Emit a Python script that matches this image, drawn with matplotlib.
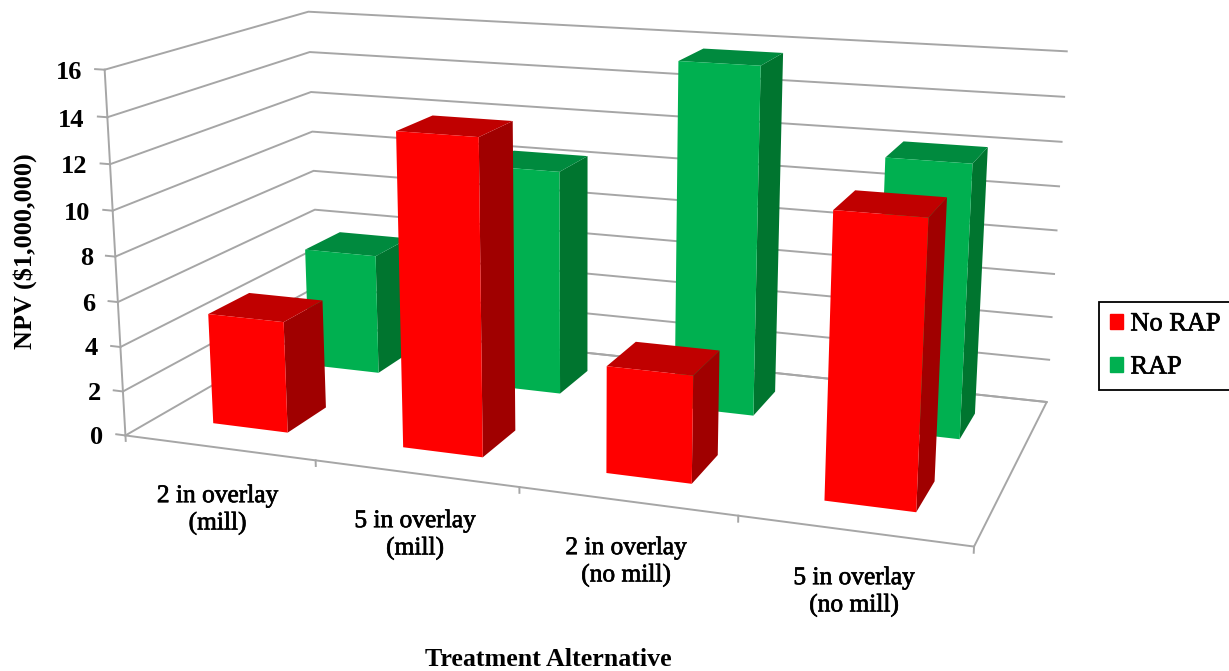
import numpy as np
import matplotlib
matplotlib.use("Agg")
import matplotlib.pyplot as plt
from matplotlib.patches import Patch
import matplotlib.patheffects as pe

WIDTH, HEIGHT = 1229, 671

categories = ["2 in overlay\n(mill)", "5 in overlay\n(mill)", "2 in overlay\n(no mill)", "5 in overlay\n(no mill)"]
no_rap = [5.0, 13.7, 4.6, 11.85]
rap = [5.7, 10.4, 15.7, 12.1]
y_ticks = [0, 2, 4, 6, 8, 10, 12, 14, 16]

RED = {"front": "#ff0000", "top": "#c00000", "side": "#a00000"}
GREEN = {"front": "#00b050", "top": "#008a3e", "side": "#00752f"}
GRID = "#a6a6a6"
SERIF = "Liberation Serif"

# camera calibration: (category, depth, value) -> canvas pixel
world_pts = np.array([
    (0, 0, 0), (4, 0, 0), (4, 1, 0), (0, 1, 0), (0, 0, 16), (0, 1, 16), (4, 1, 16),
    (1, 0, 0), (2, 0, 0), (3, 0, 0), (0, 0, 10), (0, 1, 8),
], dtype=float)
pixel_pts = np.array([
    (126, 434.5), (974, 545), (1047, 401), (319, 324), (105, 69), (308, 12), (1067, 52),
    (315, 462), (519, 488), (738, 517), (113, 210), (313, 171),
], dtype=float)


def fit_camera(world, pixels):
    rows = []
    for (x, y, z), (u, v) in zip(world, pixels):
        v = HEIGHT - v
        rows.append([x, y, z, 1, 0, 0, 0, 0, -u*x, -u*y, -u*z, -u])
        rows.append([0, 0, 0, 0, x, y, z, 1, -v*x, -v*y, -v*z, -v])
    p = np.linalg.svd(np.array(rows))[2][-1].reshape(3, 4)
    # w = 1 in the middle of the plot box
    return p / (p[2] @ np.array([2, 0.5, 8, 1]))


CAMERA = fit_camera(world_pts, pixel_pts)


def project(x, y, z):
    # figure fraction of a point in the plot box
    u, v, w = CAMERA @ np.array([x, y, z, 1])
    return u/w/WIDTH, v/w/HEIGHT


def add_bar(ax, x, row, value, colors, order, width=0.4, depth=0.2):
    # faces in bar3d order: bottom, top, front, back, left, right
    faces = ["none", colors["top"], colors["front"], "none", "none", colors["side"]]
    ax.bar3d(x + 0.5 - width/2, row*0.5 + 0.25 - depth/2, 0, width, depth, value,
             color=faces, shade=False, linewidth=0, zorder=order)


def main():
    fig = plt.figure(figsize=(WIDTH/100, HEIGHT/100), dpi=100)
    ax = fig.add_axes([0, 0, 1, 1], projection="3d", computed_zorder=False)
    ax.set_axis_off()
    ax.apply_aspect = lambda position=None: None

    def get_proj():
        to_axes = ax.transData.inverted().get_matrix()
        m = np.zeros((4, 4))
        m[0] = to_axes[0, 0]*CAMERA[0] + to_axes[0, 1]*CAMERA[1] + to_axes[0, 2]*CAMERA[2]
        m[1] = to_axes[1, 0]*CAMERA[0] + to_axes[1, 1]*CAMERA[1] + to_axes[1, 2]*CAMERA[2]
        m[2] = [0, 0.2, 0, -0.5]
        m[3] = CAMERA[2]
        return m
    ax.get_proj = get_proj

    n = len(categories)
    # gridlines on the side and back walls
    for v in y_ticks:
        ax.plot([0, 0, n], [0, 1, 1], [v, v, v], color=GRID, lw=1.4, zorder=1)
        ax.plot([-0.05, 0], [0, 0], [v, v], color=GRID, lw=1.4, zorder=1)
        fx, fy = project(-0.12, 0, v)
        fig.text(fx, fy - 2/HEIGHT, str(v), ha="right", va="center_baseline", fontsize=19,
                 family=SERIF, weight="bold")
    ax.plot([0, 0], [0, 0], [-0.25, 16], color=GRID, lw=1.4, zorder=1)
    # floor outline
    ax.plot([0, n, n, 0], [0, 0, 1, 1], [0, 0, 0, 0], color=GRID, lw=1.4, zorder=1)
    for i in range(1, n + 1):
        ax.plot([i, i], [0, 0], [0, -0.25], color=GRID, lw=1.4, zorder=1)

    for i, v in enumerate(rap):
        add_bar(ax, i, 1, v, GREEN, 2 + i*0.1)
    for i, v in enumerate(no_rap):
        add_bar(ax, i, 0, v, RED, 4 + i*0.1)

    heavier = [pe.withStroke(linewidth=0.5, foreground="black")]
    label_pos = [(217.5, 510), (415, 535), (626, 562), (854, 592)]
    for name, (px, py) in zip(categories, label_pos):
        fig.text(px/WIDTH, 1 - py/HEIGHT, name, ha="center", va="center", fontsize=18.3,
                 family=SERIF, linespacing=1.26, path_effects=heavier)

    fig.text(25/WIDTH, 1 - 251/HEIGHT, "NPV ($1,000,000)", rotation=90, ha="center", va="center",
             fontsize=18.9, family=SERIF, weight="bold")
    fig.text(548/WIDTH, 1 - 659/HEIGHT, "Treatment Alternative", ha="center", va="center",
             fontsize=18.7, family=SERIF, weight="bold")

    handles = [Patch(color=RED["front"], label="No RAP"), Patch(color=GREEN["front"], label="RAP")]
    leg = ax.legend(handles=handles, loc="center left", bbox_to_anchor=(1099/WIDTH, 1 - 346/HEIGHT),
                    bbox_transform=fig.transFigure, borderaxespad=0, fancybox=False, framealpha=1,
                    edgecolor="black", handlelength=0.5, handleheight=0.5, handletextpad=0.27,
                    labelspacing=0.8, borderpad=0.42,
                    prop={"family": SERIF, "size": 19})
    leg.get_frame().set_linewidth(1.3)
    for txt in leg.get_texts():
        txt.set_path_effects(heavier)

    fig.savefig("out.png", dpi=100)


if __name__ == "__main__":
    main()
